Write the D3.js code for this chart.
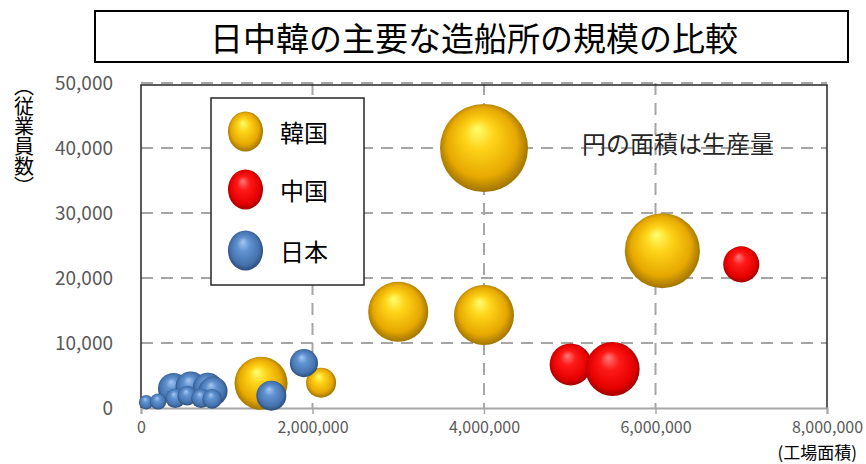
<!DOCTYPE html>
<html>
<head>
<meta charset="utf-8">
<script src="https://cdn.jsdelivr.net/npm/d3@7"></script>
<style>
    body { margin: 0; background: #fff; }
    text { font-family: "Noto Sans CJK JP", "Noto Sans", sans-serif; }
</style>
</head>
<body>
<div id="bubble_chart"></div>
<script>
// Data
const seriesNames = ["韓国", "中国", "日本"];

// 韓国
const koreaArea = [4000000, 6080000, 3000000, 4000000, 1400000, 2100000];
const koreaStaff = [40000, 24200, 14800, 14300, 3800, 3900];
const koreaOutput = [440, 320, 205, 205, 160, 51];

// 中国
const chinaArea = [7000000, 5010000, 5500000];
const chinaStaff = [22100, 6700, 6000];
const chinaOutput = [74, 100, 166];

// 日本
const japanArea = [1900000, 1520000, 380000, 580000, 780000, 840000, 60000, 200000, 400000, 540000, 700000, 830000];
const japanStaff = [6900, 1900, 3000, 3300, 3100, 2600, 900, 1000, 1500, 1900, 1500, 1400];
const japanOutput = [45, 51, 55, 52, 52, 48, 12, 15, 22, 22, 22, 22];

const xTicks = [0, 2000000, 4000000, 6000000, 8000000];
const yTicks = [0, 10000, 20000, 30000, 40000, 50000];

// Chart dimensions
const width = 866;
const height = 464;
const marginLeft = 141;
const marginRight = 39;
const marginTop = 83;
const marginBottom = 56;

const svg = d3.create("svg")
    .attr("width", width)
    .attr("height", height);

bubble_chart.append(svg.node());

const x = d3.scaleLinear()
    .domain([0, 8000000])
    .range([marginLeft, width - marginRight]);

const y = d3.scaleLinear()
    .domain([0, 50000])
    .range([height - marginBottom, marginTop]);

const r = d3.scaleSqrt()
    .domain([0, 440])
    .range([0, 44]);

// Sphere-like gradients
const defs = svg.append("defs");
const gradients = [
    { id: "g0", stops: [["0%", "#ffff70"], ["30%", "#ffd41a"], ["72%", "#e6a800"], ["100%", "#8a6400"]] },
    { id: "g1", stops: [["0%", "#ff7a7a"], ["32%", "#ff1a1a"], ["75%", "#e60000"], ["100%", "#8a0000"]] },
    { id: "g2", stops: [["0%", "#a8c8f0"], ["32%", "#6193d2"], ["75%", "#4472ad"], ["100%", "#253f66"]] }
];
gradients.forEach(g => {
    const grad = defs.append("radialGradient")
        .attr("id", g.id)
        .attr("cx", "50%").attr("cy", "50%").attr("r", "55%")
        .attr("fx", "42%").attr("fy", "28%");
    g.stops.forEach(s => grad.append("stop").attr("offset", s[0]).attr("stop-color", s[1]));
});

// Title box
svg.append("rect")
    .attr("x", 95).attr("y", 11)
    .attr("width", 753).attr("height", 51)
    .attr("fill", "#fff")
    .attr("stroke", "#000")
    .attr("stroke-width", 2);

svg.append("text")
    .attr("x", 474)
    .attr("y", 37)
    .attr("text-anchor", "middle")
    .attr("dominant-baseline", "central")
    .attr("font-size", 33)
    .attr("fill", "#000")
    .text("日中韓の主要な造船所の規模の比較");

// Horizontal grid lines
svg.append("g")
    .selectAll("line")
    .data(yTicks.filter(d => d > 0))
    .join("line")
    .attr("x1", x(0)).attr("x2", x(8000000))
    .attr("y1", d => y(d)).attr("y2", d => y(d))
    .attr("stroke", "#a6a6a6")
    .attr("stroke-width", 2)
    .attr("stroke-dasharray", "12,8");

// Vertical grid lines
svg.append("g")
    .selectAll("line")
    .data(xTicks.filter(d => d > 0 && d < 8000000))
    .join("line")
    .attr("x1", d => x(d)).attr("x2", d => x(d))
    .attr("y1", y(50000)).attr("y2", y(0))
    .attr("stroke", "#a6a6a6")
    .attr("stroke-width", 2)
    .attr("stroke-dasharray", "12,8");

// Plot frame (left, top, right)
svg.append("path")
    .attr("d", `M${x(0)},${y(0)} V${y(50000) + 2} H${x(8000000)} V${y(0)}`)
    .attr("fill", "none")
    .attr("stroke", "#262626")
    .attr("stroke-width", 1.5);

// X axis
const gx = svg.append("g")
    .attr("transform", `translate(0,${y(0)})`)
    .call(d3.axisBottom(x).tickValues(xTicks).tickFormat(d3.format(",")).tickSize(6).tickPadding(8));
gx.select(".domain").attr("stroke", "#a6a6a6").attr("stroke-width", 2);
gx.selectAll(".tick line").attr("stroke", "#a6a6a6").attr("stroke-width", 1.5);
gx.selectAll(".tick text")
    .attr("font-size", 16)
    .attr("fill", "#595959")
    .style("font-family", '"Noto Sans CJK JP", sans-serif');

// Y axis labels
const gy = svg.append("g")
    .attr("transform", `translate(${x(0)},0)`)
    .call(d3.axisLeft(y).tickValues(yTicks).tickFormat(d3.format(",")).tickSize(0).tickPadding(28));
gy.select(".domain").remove();
gy.selectAll(".tick text")
    .attr("font-size", 19)
    .attr("fill", "#595959")
    .style("font-family", '"Noto Sans CJK JP", sans-serif');

// Axis titles
svg.append("text")
    .attr("x", 24)
    .attr("y", 76)
    .attr("font-size", 20)
    .attr("fill", "#000")
    .style("writing-mode", "vertical-rl")
    .text("（従業員数）");

svg.append("text")
    .attr("x", 857)
    .attr("y", 451)
    .attr("text-anchor", "end")
    .attr("dominant-baseline", "central")
    .attr("font-size", 17)
    .attr("fill", "#000")
    .text("(工場面積)");

// Note
svg.append("text")
    .attr("x", 582)
    .attr("y", 142)
    .attr("dominant-baseline", "central")
    .attr("font-size", 24)
    .attr("fill", "#262626")
    .text("円の面積は生産量");

// Bubbles, drawn in series order
const series = [
    { area: koreaArea, staff: koreaStaff, output: koreaOutput, fill: "url(#g0)" },
    { area: chinaArea, staff: chinaStaff, output: chinaOutput, fill: "url(#g1)" },
    { area: japanArea, staff: japanStaff, output: japanOutput, fill: "url(#g2)" }
];

const bubbles = [];
series.forEach(s => {
    s.area.forEach((a, i) => bubbles.push({ area: a, staff: s.staff[i], output: s.output[i], fill: s.fill }));
});

svg.append("g")
    .selectAll("circle")
    .data(bubbles)
    .join("circle")
    .attr("cx", d => x(d.area))
    .attr("cy", d => y(d.staff))
    .attr("r", d => r(d.output))
    .attr("fill", d => d.fill);

// Legend
const legend = svg.append("g");
legend.append("rect")
    .attr("x", 211).attr("y", 98)
    .attr("width", 153).attr("height", 187)
    .attr("fill", "#fff")
    .attr("stroke", "#262626")
    .attr("stroke-width", 1.5);

const legendY = [131.5, 189.5, 250.5];
seriesNames.forEach((name, i) => {
    legend.append("ellipse")
        .attr("cx", 245.5)
        .attr("cy", legendY[i])
        .attr("rx", 17.5)
        .attr("ry", 20)
        .attr("fill", series[i].fill);
    legend.append("text")
        .attr("x", 280)
        .attr("y", legendY[i])
        .attr("dominant-baseline", "central")
        .attr("font-size", 24)
        .attr("fill", "#000")
        .text(name);
});
</script>
</body>
</html>
